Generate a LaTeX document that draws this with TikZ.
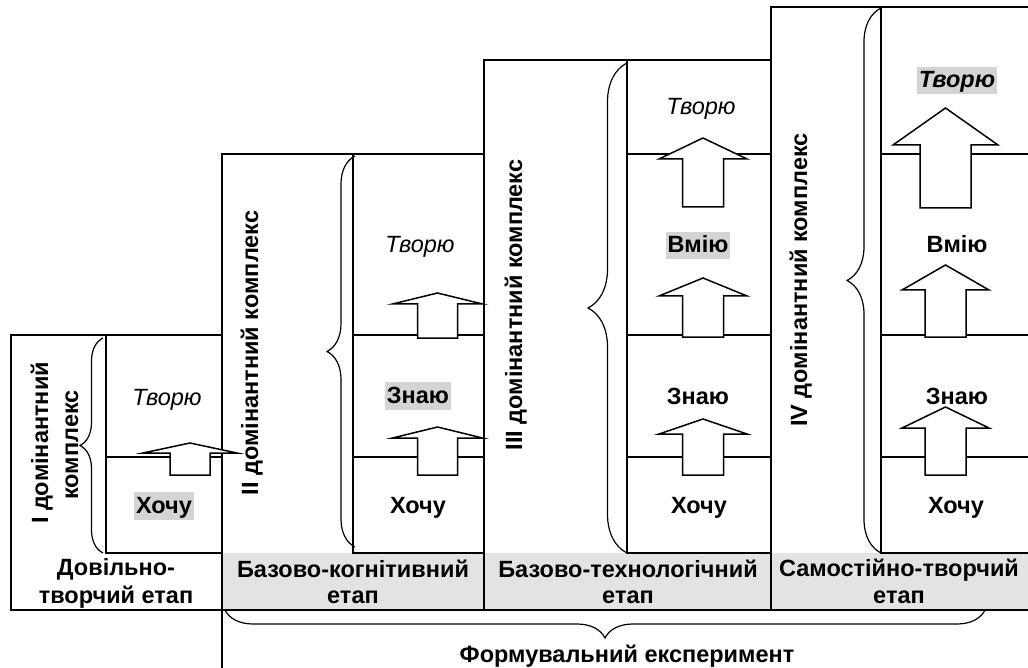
\documentclass[tikz,border=0pt]{standalone}
\usepackage{fontspec}
\setmainfont{Liberation Sans}
\usetikzlibrary{decorations.pathreplacing}
\definecolor{hl}{gray}{0.83}
\definecolor{bandgray}{gray}{0.89}
\newcommand\wfont{\fontsize{23.5}{27}\selectfont}
\newcommand\blkarrow[6]{%
  \draw[arrowbox] (#1-#6,#4) -- (#1-#6,#3) -- (#1-#5,#3) -- (#1,#2) -- (#1+#5,#3) -- (#1+#6,#3) -- (#1+#6,#4) -- cycle;}
\begin{document}
\begin{tikzpicture}[x=1pt,y=-1pt,
  box/.style={line width=2pt, line cap=rect},
  word/.style={font=\wfont, inner sep=2pt, text height=19pt, text depth=4.5pt, anchor=base},
  wordb/.style={word, font=\wfont\bfseries},
  wordi/.style={word, font=\wfont\itshape},
  wordbi/.style={word, font=\wfont\bfseries\itshape},
  hlt/.style={fill=hl},
  vlabel/.style={font=\wfont\bfseries, rotate=90, anchor=base, inner sep=0pt},
  blabel/.style={font=\wfont\bfseries, anchor=base, inner sep=0pt},
  arrowbox/.style={draw, fill=white, line width=1.5pt, line join=miter},
  brc/.style={decorate, decoration={brace, amplitude=#1}, line width=1.2pt}]
\useasboundingbox (0,0) rectangle (1028,668);
% grey bands
\fill[bandgray] (222,553) rectangle (484,610);
\fill[bandgray] (484,553) rectangle (771,610);
\fill[bandgray] (771,553) rectangle (1028,610);
% outer frames
\draw[box] (11,335) -- (222,335);
\draw[box] (11,335) -- (11,610);
\draw[box] (11,610) -- (1028,610);
\draw[box] (222,154) -- (222,668);
\draw[box] (222,154) -- (484,154);
\draw[box] (484,60) -- (484,610);
\draw[box] (484,60) -- (771,60);
\draw[box] (771,7) -- (771,610);
\draw[box] (771,7) -- (1028,7);
% inner boxes
\draw[box] (106,335) -- (106,553);
\draw[box] (353,154) -- (353,553);
\draw[box] (627,60) -- (627,553);
\draw[box] (881,7) -- (881,553);
\foreach \y in {457,553} {
  \draw[box] (106,\y) -- (222,\y);
  \draw[box] (353,\y) -- (484,\y);
  \draw[box] (627,\y) -- (771,\y);
  \draw[box] (881,\y) -- (1028,\y);
}
\draw[box] (353,335) -- (484,335);
\draw[box] (627,335) -- (771,335);
\draw[box] (881,335) -- (1028,335);
\draw[box] (627,154) -- (771,154);
\draw[box] (881,154) -- (1028,154);
% braces
\draw[brc=23pt] (103,553) -- (103,338);
\draw[brc=28pt] (355,547) -- (355,156);
\draw[brc=39pt] (627,553) -- (627,63);
\draw[brc=34pt] (881,553) -- (881,8);
\draw[brc=28pt] (985,610) -- (225,610);
% block arrows
\blkarrow{190}{443}{453}{475}{47}{20}
\blkarrow{437.5}{293}{304}{338}{45}{20}
\blkarrow{437.5}{427}{438}{475}{45}{20}
\blkarrow{703}{138}{159}{207}{44}{20.5}
\blkarrow{703}{278}{296}{337}{44}{20.5}
\blkarrow{703}{419}{434}{475}{44}{20.5}
\blkarrow{945.5}{108}{145}{208}{52.5}{25.5}
\blkarrow{945.5}{265}{290}{337}{43.5}{20.5}
\blkarrow{945.5}{407}{428}{475}{43.5}{20.5}
% vertical labels
\node[vlabel] (l1a) at (48,443) {I домінантний};
\node[vlabel] (l1b) at (78,445) {комплекс};
\node[vlabel] (l2) at (258,353) {II домінантний комплекс};
\node[vlabel] (l3) at (522,305) {III домінантний комплекс};
\node[vlabel] (l4) at (807,280) {IV домінантний комплекс};
% words
\node[wordi] (t1) at (167,405) {Творю};
\node[wordb,hlt] (h1) at (164,513) {Хочу};
\node[wordi] (t2) at (420,253) {Творю};
\node[wordb,hlt] (z2) at (418,403) {Знаю};
\node[wordb] (h2) at (418,513) {Хочу};
\node[wordi] (t3) at (701,115) {Творю};
\node[wordb,hlt] (v3) at (698,253) {Вмію};
\node[wordb] (z3) at (698,404) {Знаю};
\node[wordb] (h3) at (699,513) {Хочу};
\node[wordbi,hlt] (t4) at (957,88) {Творю};
\node[wordb] (v4) at (957,253) {Вмію};
\node[wordb] (z4) at (957,404) {Знаю};
\node[wordb] (h4) at (956,513) {Хочу};
% band labels
\node[blabel] (b1a) at (116,575) {Довільно-};
\node[blabel] (b1b) at (116,603) {творчий етап};
\node[blabel] (b2a) at (353,577) {Базово-когнітивний};
\node[blabel] (b2b) at (353,603) {етап};
\node[blabel] (b3a) at (628,577) {Базово-технологічний};
\node[blabel] (b3b) at (628,603) {етап};
\node[blabel] (b4a) at (899,576) {Самостійно-творчий};
\node[blabel] (b4b) at (899,603) {етап};
\node[blabel] (fe) at (627,662) {Формувальний експеримент};
\end{tikzpicture}
\end{document}
